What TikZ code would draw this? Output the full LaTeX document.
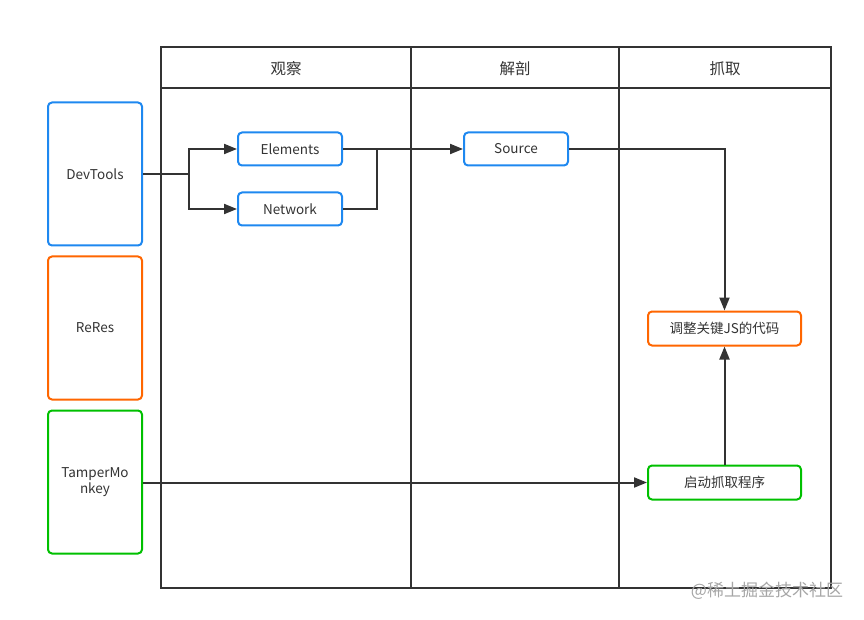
\documentclass[tikz,border=0pt]{standalone}
\usepackage{fontspec}
\setmainfont{Noto Sans CJK SC}
\usetikzlibrary{arrows.meta}
\definecolor{lc}{HTML}{333333}
\definecolor{bl}{HTML}{1E88F0}
\definecolor{og}{HTML}{FF6600}
\definecolor{gr}{HTML}{00C000}
\tikzset{
  box/.style={draw, line width=2pt, rounded corners=4pt, fill=white, inner sep=0pt, font=\fontsize{13.5}{16}\selectfont, text=lc, align=center},
  frame/.style={draw=lc, line width=2pt},
  conn/.style={draw=lc, line width=2pt},
  arr/.style={conn, -{Triangle[length=13pt,width=10pt]}},
  head/.style={font=\fontsize{15.5}{18}\selectfont, text=lc}
}
\begin{document}
\begin{tikzpicture}[x=1pt,y=-1pt]
\useasboundingbox (0,0) rectangle (864,620);
% frame
\draw[frame] (161,47.5) rectangle (831,587.5);
\draw[frame] (161,88.5) -- (831,88.5);
\draw[frame] (411,47.5) -- (411,587.5);
\draw[frame] (619,47.5) -- (619,587.5);
\node[head] (h1) at (286,69) {观察};
\node[head] (h2) at (515,69) {解剖};
\node[head] (h3) at (725,69) {抓取};
% left boxes
\node[box, draw=bl, minimum width=94pt, minimum height=143pt] (dev) at (95,174) {DevTools};
\node[box, draw=og, minimum width=94pt, minimum height=143pt] (rr) at (95,328) {ReRes};
\node[box, draw=gr, minimum width=94pt, minimum height=143pt] (tm) at (95,482) {TamperMo\\nkey};
% inner boxes
\node[box, draw=bl, minimum width=104pt, minimum height=33pt] (el) at (290,149) {Elements};
\node[box, draw=bl, minimum width=104pt, minimum height=33pt] (nw) at (290,209) {Network};
\node[box, draw=bl, minimum width=104pt, minimum height=33pt] (src) at (516,149) {Source};
\node[box, draw=og, minimum width=153pt, minimum height=34pt] (adj) at (724.5,328.5) {调整关键JS的代码};
\node[box, draw=gr, minimum width=153pt, minimum height=34pt] (run) at (724.5,482.5) {启动抓取程序};
% connectors
\coordinate (j1) at (189,174.5);
\draw[conn] (dev.east |- j1) -- (j1);
\draw[arr] (j1) |- (el.west);
\draw[arr] (j1) |- (nw.west);
\draw[arr] (el.east) -- (src.west);
\draw[conn] (nw.east) -- (377,209) -- (377,149);
\draw[arr] (src.east) -| (adj.north);
\draw[arr] (run.north) -- (adj.south);
\draw[arr] (tm.east |- run.west) -- (run.west);
% watermark
\node[font=\fontsize{17}{20}\selectfont, text=black!35] (wm) at (767,591) {@稀土掘金技术社区};
\end{tikzpicture}
\end{document}
